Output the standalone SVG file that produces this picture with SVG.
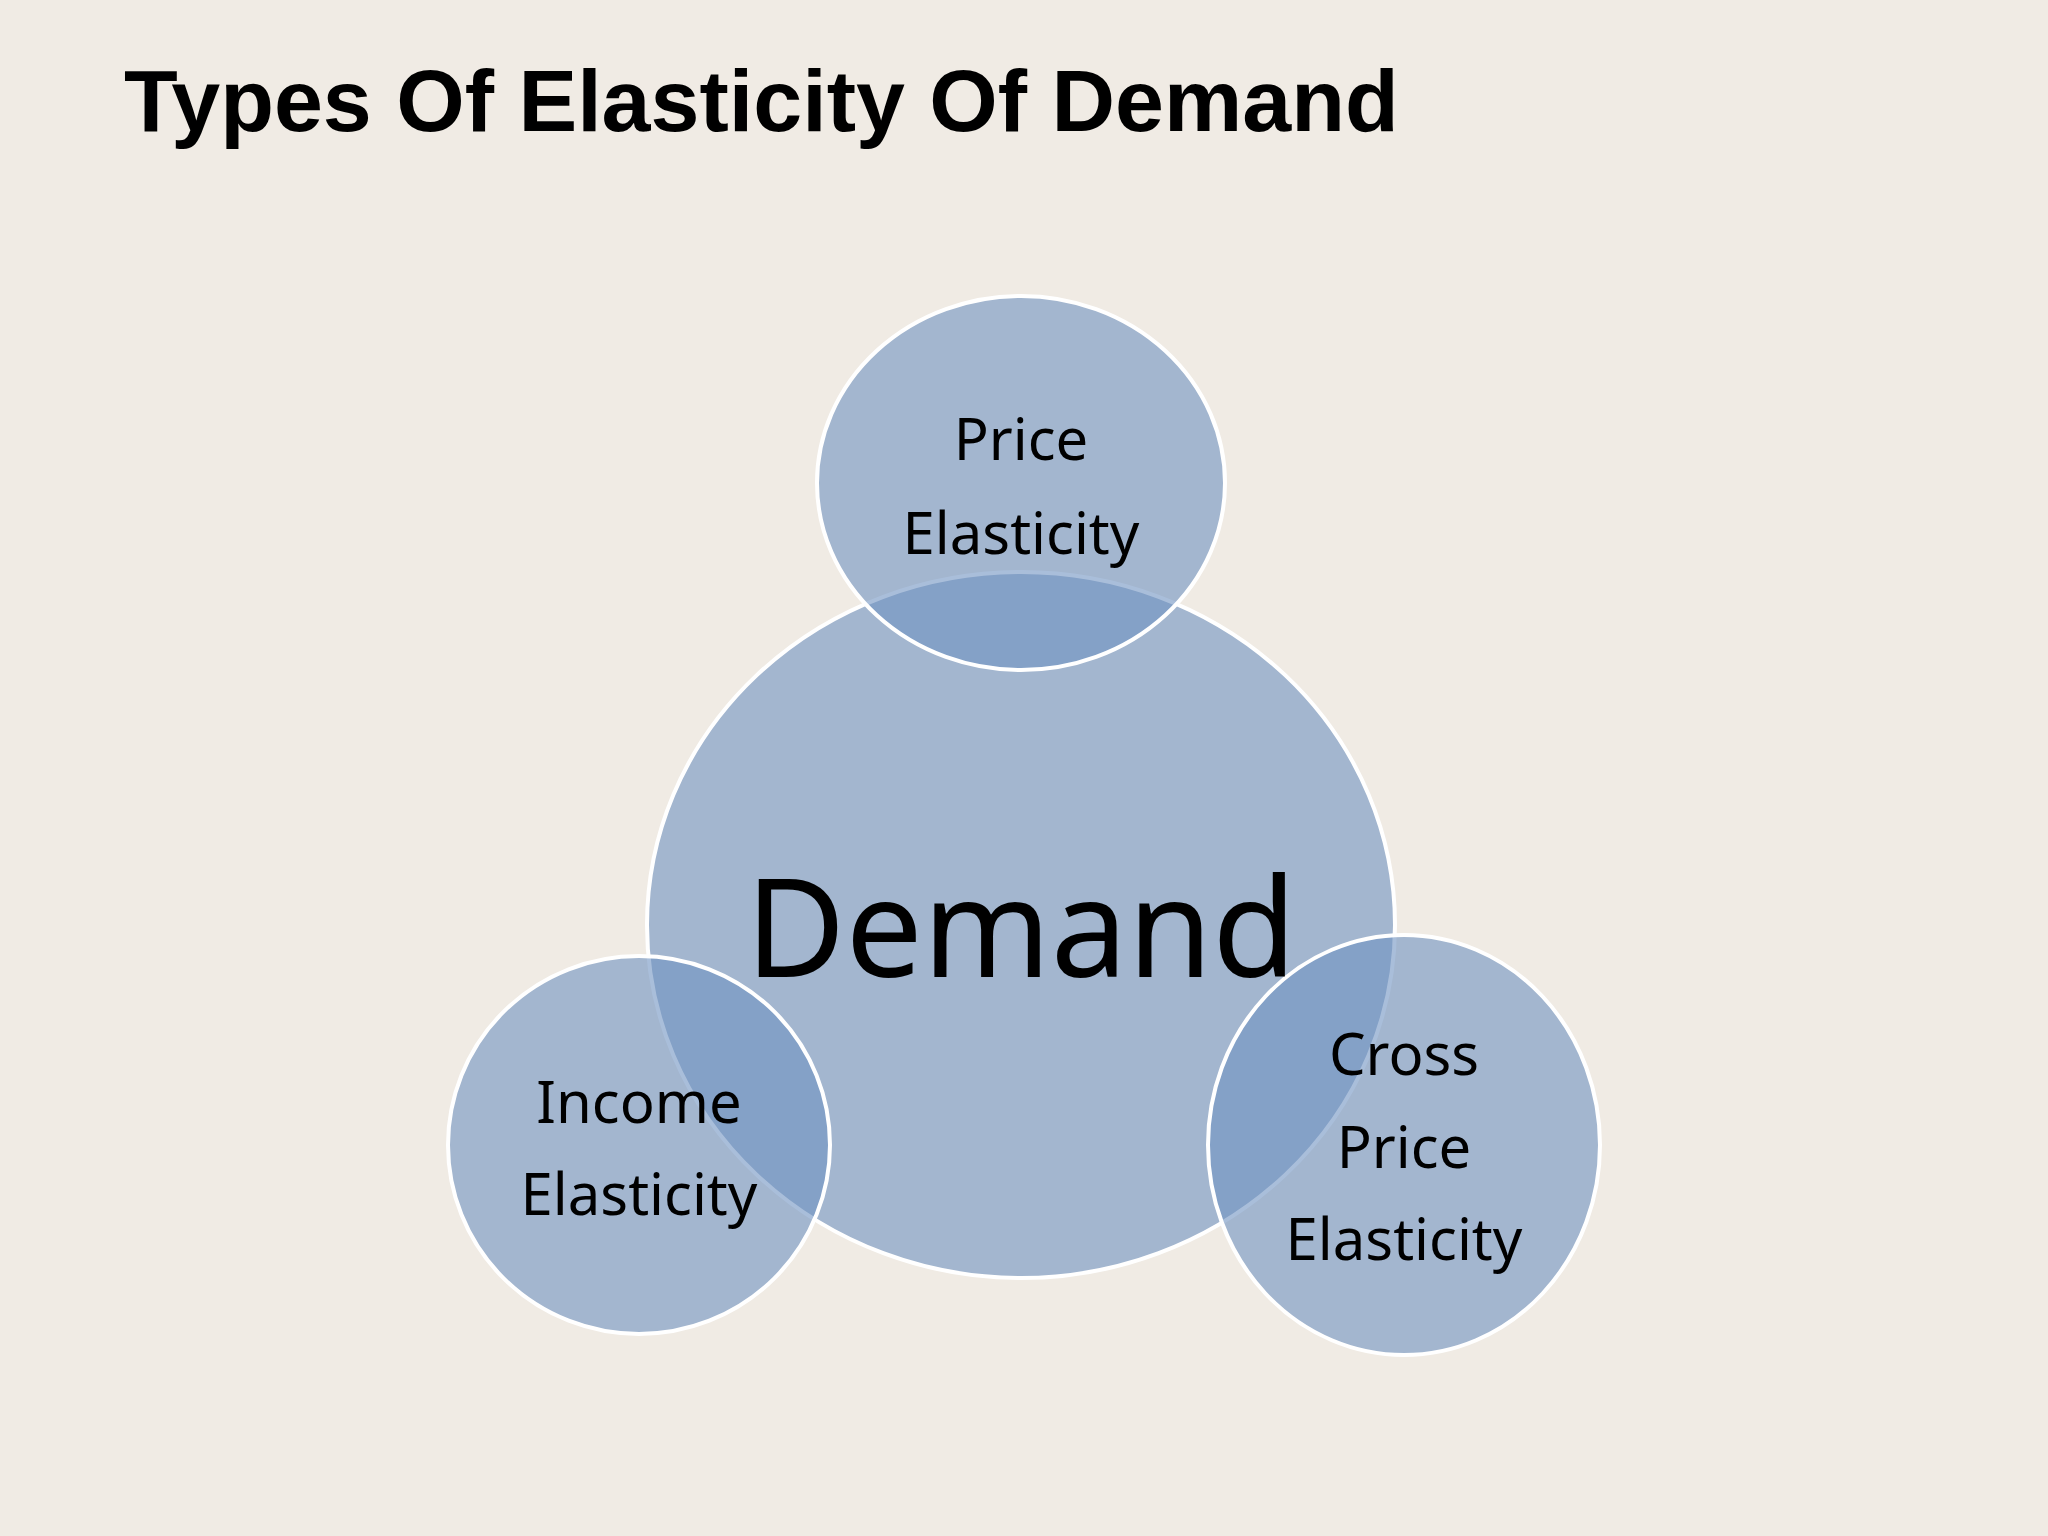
<svg xmlns="http://www.w3.org/2000/svg" width="2048" height="1536" viewBox="0 0 2048 1536">
<style>
.c{fill:#6f93c2;fill-opacity:0.6;stroke:#ffffff;stroke-width:4}
.t{font-family:"Noto Sans","Open Sans",sans-serif;fill:#000;text-anchor:middle}
.l{font-size:58px}
</style>
<rect width="2048" height="1536" fill="#f0ebe4"/>
<text x="124" y="131" font-family="Liberation Sans, Arial, sans-serif" font-weight="bold" font-size="88" fill="#000">Types Of Elasticity Of Demand</text>
<g id="demand"><ellipse class="c" cx="1021" cy="925" rx="374" ry="353"/></g>
<g id="price"><ellipse class="c" cx="1021" cy="483" rx="204" ry="187"/>
<text class="t l" x="1021" y="460">Price</text><text class="t l" x="1021" y="554">Elasticity</text></g>
<g id="income"><ellipse class="c" cx="639" cy="1145" rx="191" ry="189"/>
<text class="t l" x="639" y="1123">Income</text><text class="t l" x="639" y="1215">Elasticity</text></g>
<g id="cross"><ellipse class="c" cx="1404" cy="1145" rx="196" ry="210"/>
<text class="t l" x="1404" y="1075">Cross</text><text class="t l" x="1404" y="1168">Price</text><text class="t l" x="1404" y="1260">Elasticity</text></g>
<text class="t" x="1021" y="977" font-size="137">Demand</text>
<g id="connectors"/>
</svg>
